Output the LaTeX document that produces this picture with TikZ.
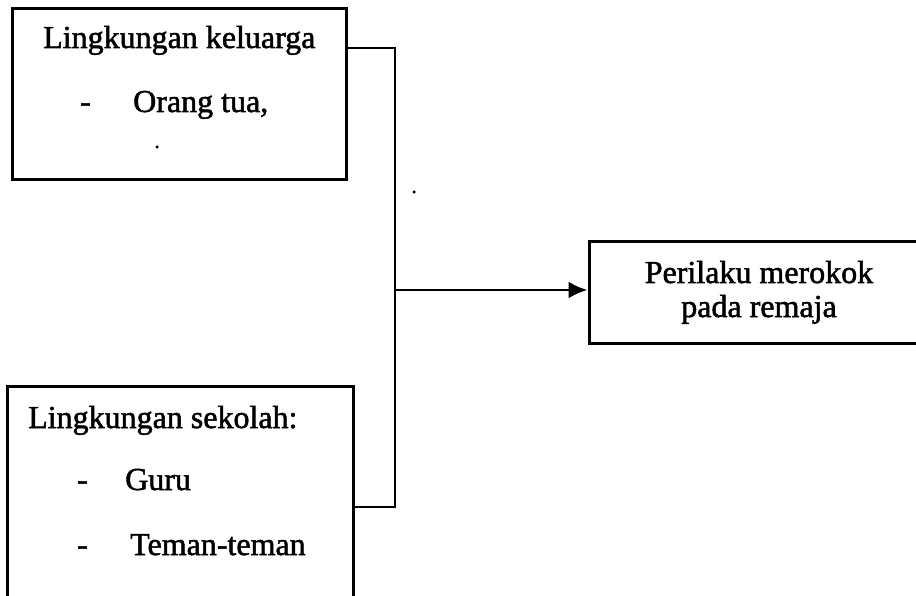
\documentclass[tikz,border=0pt]{standalone}
\usepackage{fontspec}
\setmainfont{Liberation Serif}
\newfontfamily\scanfont{Liberation Serif}[FakeBold=1.6]
\usetikzlibrary{arrows.meta}
\begin{document}
\begin{tikzpicture}[x=1pt,y=-1pt,
  box/.style={draw,line width=3pt,inner sep=0pt},
  lbl/.style={inner sep=0pt,font=\scanfont\fontsize{32}{38}\selectfont},
  link/.style={line width=2.8pt},
  speck/.style={fill,circle,inner sep=0pt,minimum size=3.5pt}]
\clip (0,0) rectangle (916,596);
\fill[white] (0,0) rectangle (916,596);

% boxes
\node[box, minimum width=334pt, minimum height=171pt] (kel) at (179,94.5) {};
\node[box, minimum width=346pt, minimum height=224pt] (sek) at (180,498) {};
\node[box, minimum width=341pt, minimum height=101pt] (per) at (759.5,292.5) {};

% family environment
\node[lbl, anchor=base west] (kelT) at (43,48) {Lingkungan keluarga};
\node[lbl, anchor=base west] (kelD) at (80,112) {-};
\node[lbl, anchor=base west] (kelA) at (133,112) {Orang tua,};
\node[speck] (kelS) at (157,147) {};

% school environment
\node[lbl, anchor=base west] (sekT) at (28,428) {Lingkungan sekolah:};
\node[lbl, anchor=base west] (sekD1) at (77,490) {-};
\node[lbl, anchor=base west] (sekA) at (125,490) {Guru};
\node[lbl, anchor=base west] (sekD2) at (77,555) {-};
\node[lbl, anchor=base west] (sekB) at (130,555) {Teman-teman};

% outcome
\node[lbl, anchor=base] (perA) at (759,283) {Perilaku merokok};
\node[lbl, anchor=base] (perB) at (759,317) {pada remaja};

% connectors
\coordinate (j1) at (395,48);
\coordinate (j2) at (395,507);
\coordinate (jm) at (395,290);
\node[speck] (dot) at (414,192) {};
\draw[link] (kel.east |- j1) -- (j1) -- (j2) -- (sek.east |- j2);
\draw[link,-{Latex[length=19pt,width=17pt]}] (jm) -- (per.west |- jm);
\end{tikzpicture}
\end{document}
